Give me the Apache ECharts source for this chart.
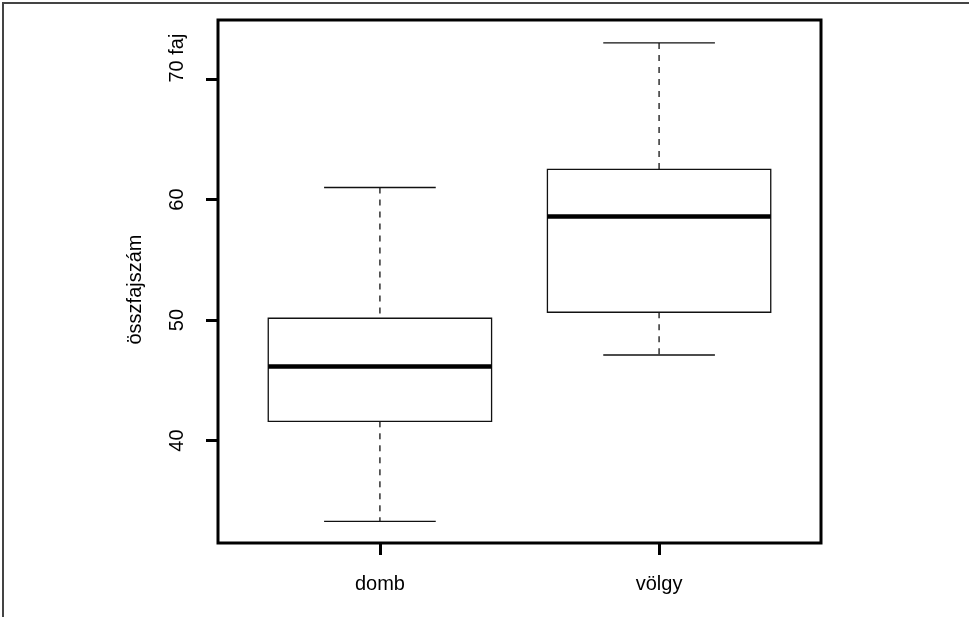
<!DOCTYPE html>
<html>
<head>
<meta charset="utf-8">
<script src="https://cdn.jsdelivr.net/npm/echarts@6/dist/echarts.min.js"></script>
<style>
  html, body { margin: 0; padding: 0; background: #fff; }
  #chart { position: absolute; left: 0; top: 0; width: 969px; height: 617px; }
  #frame { position: absolute; left: 2px; top: 2px; width: 967px; height: 615px;
           border-top: 2px solid #444; border-left: 2px solid #444; box-sizing: border-box; pointer-events: none; }
</style>
</head>
<body>
<div id="chart"></div>
<div id="frame"></div>
<script>
// ---- data ----
const categories = ['domb', 'völgy'];
const positions = [1, 2];
const lowerWhisker = [33.3, 47.1];
const q1Values = [41.6, 50.65];
const medianValues = [46.15, 58.6];
const q3Values = [50.15, 62.5];
const upperWhisker = [61.0, 73.0];
const yTickValues = [40, 50, 60, 70];
const yTickLabels = ['40', '50', '60', '70 faj'];
const yAxisTitle = 'összfajszám';

const FONT = 'Liberation Sans, Arial, Helvetica, sans-serif';
const boxData = positions.map((p, i) => [p, lowerWhisker[i], q1Values[i], medianValues[i], q3Values[i], upperWhisker[i]]);

function renderBox(params, api) {
  const x = api.value(0);
  const lo = api.value(1), q1 = api.value(2), med = api.value(3), q3 = api.value(4), hi = api.value(5);
  const bw = 0.4, cw = 0.2;
  const tl = api.coord([x - bw, q3]);
  const br = api.coord([x + bw, q1]);
  const mL = api.coord([x - bw, med]);
  const mR = api.coord([x + bw, med]);
  const cTop = api.coord([x, hi]);
  const cQ3 = api.coord([x, q3]);
  const cQ1 = api.coord([x, q1]);
  const cLow = api.coord([x, lo]);
  const capTL = api.coord([x - cw, hi]), capTR = api.coord([x + cw, hi]);
  const capBL = api.coord([x - cw, lo]), capBR = api.coord([x + cw, lo]);
  const lineStyle = { stroke: '#111', lineWidth: 1.3 };
  return {
    type: 'group',
    children: [
      { type: 'line', shape: { x1: cTop[0], y1: cTop[1], x2: cQ3[0], y2: cQ3[1] },
        style: { stroke: '#222', lineWidth: 1.4, lineDash: [6, 6] } },
      { type: 'line', shape: { x1: cQ1[0], y1: cQ1[1], x2: cLow[0], y2: cLow[1] },
        style: { stroke: '#222', lineWidth: 1.4, lineDash: [6, 6] } },
      { type: 'line', shape: { x1: capTL[0], y1: capTL[1], x2: capTR[0], y2: capTR[1] }, style: lineStyle },
      { type: 'line', shape: { x1: capBL[0], y1: capBL[1], x2: capBR[0], y2: capBR[1] }, style: lineStyle },
      { type: 'rect', shape: { x: tl[0], y: tl[1], width: br[0] - tl[0], height: br[1] - tl[1] },
        style: { fill: '#fff', stroke: '#111', lineWidth: 1.3 } },
      { type: 'line', shape: { x1: mL[0], y1: mL[1], x2: mR[0], y2: mR[1] },
        style: { stroke: '#000', lineWidth: 4.5 } }
    ]
  };
}

const chart = echarts.init(document.getElementById('chart'), null, { renderer: 'canvas' });
chart.setOption({
  animation: false,
  backgroundColor: '#fff',
  grid: { left: 218, top: 20, width: 603, height: 523, show: true, borderColor: '#000', borderWidth: 3, backgroundColor: 'transparent' },
  xAxis: {
    type: 'value', min: 0.42, max: 2.58,
    axisLine: { show: false },
    splitLine: { show: false },
    axisTick: { show: true, customValues: positions, length: 12, lineStyle: { color: '#000', width: 3 } },
    axisLabel: { customValues: positions, margin: 31, color: '#000', fontSize: 20, fontFamily: FONT,
      formatter: v => categories[positions.indexOf(v)] }
  },
  yAxis: {
    type: 'value', min: 31.5, max: 74.9,
    name: yAxisTitle, nameLocation: 'middle', nameGap: 73,
    nameTextStyle: { color: '#000', fontSize: 20, fontFamily: FONT, padding: [0, 16, 0, 0] },
    axisLine: { show: false },
    splitLine: { show: false },
    axisTick: { show: true, customValues: yTickValues, length: 12, lineStyle: { color: '#000', width: 3 } },
    axisLabel: { customValues: yTickValues, rotate: 90, margin: 31, color: '#000', fontSize: 20, fontFamily: FONT,
      formatter: v => {
        const i = yTickValues.indexOf(v);
        const t = yTickLabels[i];
        return i === yTickValues.length - 1 ? '{s|' + t + '}' : t;
      },
      rich: { s: { padding: [0, 0, 0, 42], fontSize: 20, fontFamily: FONT, color: '#000' } }
    }
  },
  series: [{
    type: 'custom',
    renderItem: renderBox,
    encode: { x: 0, y: [1, 2, 3, 4, 5] },
    data: boxData,
    clip: false
  }]
});
</script>
</body>
</html>
